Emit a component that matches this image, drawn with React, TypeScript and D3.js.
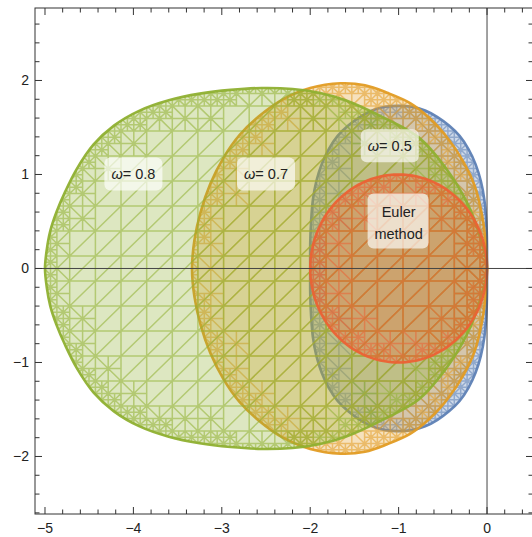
import React from 'react';
import * as d3 from 'd3';

const W = 532;
const H = 537;

// plot range (data units) covered by the frame
const xPlotRange: [number, number] = [-5.113, 0.52];
const yPlotRange: [number, number] = [-2.612, 2.771];

const xMajorTicks = [-5, -4, -3, -2, -1, 0];
const yMajorTicks = [-2, -1, 0, 1, 2];
const minorStep = 0.2;

// upper-half boundary points (left end -> origin)
const omega05Upper: [number, number][] = [
  [-2.0, 0.0], [-2.0, 0.26], [-1.99, 0.5], [-1.97, 0.73], [-1.93, 0.93],
  [-1.87, 1.11], [-1.79, 1.27], [-1.69, 1.41], [-1.57, 1.52], [-1.44, 1.61],
  [-1.3, 1.68], [-1.15, 1.72], [-1.0, 1.73], [-0.85, 1.72], [-0.7, 1.68],
  [-0.56, 1.61], [-0.43, 1.52], [-0.31, 1.41], [-0.21, 1.27], [-0.13, 1.11],
  [-0.07, 0.93], [-0.03, 0.73], [-0.008, 0.5], [0.0, 0.26], [0.0, 0.0],
];

const omega07Upper: [number, number][] = [
  [-3.337, 0.0], [-3.31, 0.3], [-3.24, 0.6], [-3.13, 0.9], [-2.98, 1.18],
  [-2.8, 1.42], [-2.58, 1.62], [-2.31, 1.8], [-2.0, 1.92], [-1.66, 1.97],
  [-1.38, 1.95], [-1.13, 1.87], [-0.87, 1.76], [-0.65, 1.6], [-0.44, 1.38],
  [-0.27, 1.14], [-0.14, 0.88], [-0.055, 0.56], [-0.012, 0.24], [0.0, 0.0],
];

const omega08Upper: [number, number][] = [
  [-5.0, 0.0], [-4.98, 0.2], [-4.94, 0.4], [-4.87, 0.6], [-4.77, 0.82],
  [-4.64, 1.06], [-4.45, 1.32], [-4.22, 1.52], [-3.93, 1.68], [-3.6, 1.79],
  [-3.25, 1.86], [-2.9, 1.9], [-2.55, 1.92], [-2.2, 1.91], [-1.9, 1.87],
  [-1.6, 1.79], [-1.18, 1.61], [-0.78, 1.4], [-0.475, 1.08], [-0.226, 0.7],
  [-0.08, 0.34], [0.0, 0.0],
];

const eulerCenter: [number, number] = [-1, 0];
const eulerRadius = 1;

const seriesColors = ['#5E81B5', '#E19C24', '#8FB032', '#EB6235'];

const labelOmegas = ['0.8', '0.7', '0.5'];
const labelOmegaPos: [number, number][] = [[-4, 1], [-2.5, 1], [-1.1, 1.3]];
const eulerLabelLines = ['Euler', 'method'];
const eulerLabelPos: [number, number] = [-1, 0.5];

// mesh grid (initial sampling grid of the region plot)
const meshX0 = -5.01;
const meshDX = 0.29;
const meshY0 = -0.133;
const meshDY = 0.266;

type P = [number, number];

function mirrorUpper(upper: P[]): P[] {
  const lower = upper.slice(1, -1).reverse().map(([a, b]) => [a, -b] as P);
  return upper.concat(lower);
}

function circlePoly(c: P, r: number): P[] {
  return d3.range(0, 360, 3).map((deg) => {
    const t = (deg * Math.PI) / 180;
    return [c[0] - r * Math.cos(t), c[1] + r * Math.sin(t)] as P;
  });
}

type Seg = [number, number, number, number];

function buildMesh(poly: P[]): Seg[] {
  const segs: Seg[] = [];
  const inside = (px: number, py: number) => d3.polygonContains(poly, [px, py]);
  const status = (x0: number, y0: number, x1: number, y1: number, n: number) => {
    let cnt = 0;
    let tot = 0;
    for (let a = 0; a <= n; a++) {
      for (let b = 0; b <= n; b++) {
        tot++;
        if (inside(x0 + ((x1 - x0) * a) / n, y0 + ((y1 - y0) * b) / n)) cnt++;
      }
    }
    return cnt === 0 ? 0 : cnt === tot ? 2 : 1;
  };
  const addCell = (x0: number, y0: number, x1: number, y1: number, diag: number) => {
    segs.push([x0, y0, x1, y0], [x1, y0, x1, y1], [x1, y1, x0, y1], [x0, y1, x0, y0]);
    if (diag === 0) segs.push([x0, y0, x1, y1]);
    else segs.push([x0, y1, x1, y0]);
  };
  const refine = (x0: number, y0: number, x1: number, y1: number, level: number, diag: number) => {
    const ex = (x1 - x0) * 0.25;
    const ey = (y1 - y0) * 0.25;
    const s = status(x0 - ex, y0 - ey, x1 + ex, y1 + ey, 4);
    if (s !== 1 || level >= 2) {
      addCell(x0, y0, x1, y1, diag);
      return;
    }
    const xm = (x0 + x1) / 2;
    const ym = (y0 + y1) / 2;
    refine(x0, y0, xm, ym, level + 1, 0);
    refine(xm, y0, x1, ym, level + 1, 1);
    refine(x0, ym, xm, y1, level + 1, 1);
    refine(xm, ym, x1, y1, level + 1, 0);
  };
  for (let i = -2; i <= 19; i++) {
    for (let j = -11; j <= 10; j++) {
      const x0 = meshX0 + i * meshDX;
      const x1 = x0 + meshDX;
      const y0 = meshY0 + j * meshDY;
      const y1 = y0 + meshDY;
      const ex = meshDX * 0.5;
      const ey = meshDY * 0.5;
      const sWide = status(x0 - ex, y0 - ey, x1 + ex, y1 + ey, 6);
      if (sWide === 0) continue;
      if (sWide === 2) {
        addCell(x0, y0, x1, y1, 0);
      } else {
        const xm = (x0 + x1) / 2;
        const ym = (y0 + y1) / 2;
        refine(x0, y0, xm, ym, 1, 0);
        refine(xm, y0, x1, ym, 1, 1);
        refine(x0, ym, xm, y1, 1, 1);
        refine(xm, ym, x1, y1, 1, 0);
      }
    }
  }
  return segs;
}

export default function App() {
  const x = d3.scaleLinear().domain(xPlotRange).range([35, 533]);
  const y = d3.scaleLinear().domain(yPlotRange).range([514, 8]);
  const left = x(xPlotRange[0]);
  const right = x(xPlotRange[1]);
  const top = y(yPlotRange[1]);
  const bottom = y(yPlotRange[0]);

  const regions = [
    { poly: mirrorUpper(omega05Upper), color: seriesColors[0], smooth: true },
    { poly: mirrorUpper(omega07Upper), color: seriesColors[1], smooth: true },
    { poly: mirrorUpper(omega08Upper), color: seriesColors[2], smooth: true },
    { poly: circlePoly(eulerCenter, eulerRadius), color: seriesColors[3], smooth: false },
  ];

  const lineSmooth = d3
    .line<P>()
    .x((d) => x(d[0]))
    .y((d) => y(d[1]))
    .curve(d3.curveCatmullRomClosed.alpha(0.5));
  const lineLin = d3
    .line<P>()
    .x((d) => x(d[0]))
    .y((d) => y(d[1]))
    .curve(d3.curveLinearClosed);

  const xMinor = d3.range(-26, 4).map((k) => +(k * minorStep).toFixed(2)).filter((v) => v > xPlotRange[0] && v < xPlotRange[1]);
  const yMinor = d3.range(-14, 15).map((k) => +(k * minorStep).toFixed(2)).filter((v) => v > yPlotRange[0] && v < yPlotRange[1]);
  const isMajor = (v: number) => Math.abs(v - Math.round(v)) < 1e-6;

  const font = '"Liberation Sans", Arial, sans-serif';
  const fmt = (v: number) => (v < 0 ? '\u2212' + Math.abs(v) : String(v));

  return (
    <svg width={W} height={H} style={{ position: 'fixed', left: 0, top: 0, background: '#fff' }} fontFamily={font}>
      <defs>
        {regions.map((r, i) => (
          <clipPath id={`rclip${i}`} key={i}>
            <path d={(r.smooth ? lineSmooth : lineLin)(r.poly) || ''} />
          </clipPath>
        ))}
      </defs>
      {regions.map((r, i) => {
        const d = (r.smooth ? lineSmooth : lineLin)(r.poly) || '';
        const segs = buildMesh(r.poly);
        const md = segs
          .map((s) => `M${x(s[0]).toFixed(1)},${y(s[1]).toFixed(1)}L${x(s[2]).toFixed(1)},${y(s[3]).toFixed(1)}`)
          .join('');
        return (
          <g key={i}>
            <path d={d} fill={r.color} fillOpacity={0.3} stroke="none" />
            <path d={md} fill="none" stroke={r.color} strokeOpacity={0.55} strokeWidth={1.5} clipPath={`url(#rclip${i})`} />
            <path d={d} fill="none" stroke={r.color} strokeWidth={2.6} strokeOpacity={0.95} />
          </g>
        );
      })}
      {/* axes through origin */}
      <line x1={left} x2={right} y1={y(0)} y2={y(0)} stroke="#444" strokeWidth={1} />
      <line x1={x(0)} x2={x(0)} y1={top} y2={bottom} stroke="#444" strokeWidth={1} />
      {/* frame */}
      <rect x={left} y={top} width={right - left} height={bottom - top} fill="none" stroke="#333" strokeWidth={1} />
      {/* ticks */}
      {xMinor.map((v) => {
        const len = isMajor(v) ? 7 : 4.5;
        return (
          <g key={'xt' + v}>
            <line x1={x(v)} x2={x(v)} y1={bottom} y2={bottom - len} stroke="#333" />
            <line x1={x(v)} x2={x(v)} y1={top} y2={top + len} stroke="#333" />
          </g>
        );
      })}
      {yMinor.map((v) => {
        const len = isMajor(v) ? 7 : 4.5;
        return (
          <g key={'yt' + v}>
            <line x1={left} x2={left + len} y1={y(v)} y2={y(v)} stroke="#333" />
            <line x1={right} x2={right - len} y1={y(v)} y2={y(v)} stroke="#333" />
          </g>
        );
      })}
      {xMajorTicks.map((v) => (
        <text key={'xl' + v} x={x(v)} y={533} textAnchor="middle" fontSize={14} fill="#222">
          {fmt(v)}
        </text>
      ))}
      {yMajorTicks.map((v) => (
        <text key={'yl' + v} x={29} y={y(v) + 5} textAnchor="end" fontSize={14} fill="#222">
          {fmt(v)}
        </text>
      ))}
      {/* labels */}
      {labelOmegas.map((w, i) => {
        const cx = x(labelOmegaPos[i][0]);
        const cy = y(labelOmegaPos[i][1]);
        return (
          <g key={'lab' + i}>
            <rect x={cx - 29} y={cy - 17} width={58} height={33} rx={6} fill="#fff" fillOpacity={0.65} />
            <text x={cx} y={cy + 5} textAnchor="middle" fontSize={14.5} fill="#222">
              <tspan fontStyle="italic">ω</tspan>= {w}
            </text>
          </g>
        );
      })}
      <g>
        <rect x={x(eulerLabelPos[0]) - 31} y={y(eulerLabelPos[1]) - 28} width={61} height={55} rx={6} fill="#fff" fillOpacity={0.65} />
        {eulerLabelLines.map((t, k) => (
          <text key={t} x={x(eulerLabelPos[0])} y={y(eulerLabelPos[1]) - 4 + k * 22} textAnchor="middle" fontSize={14.5} fill="#222">
            {t}
          </text>
        ))}
      </g>
    </svg>
  );
}
